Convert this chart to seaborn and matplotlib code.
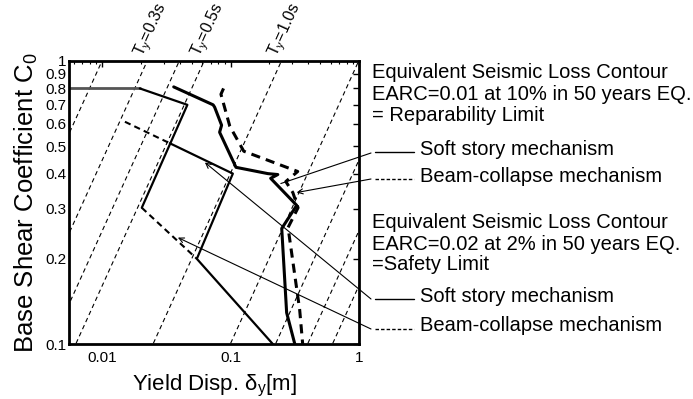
import numpy as np
import pandas as pd
import matplotlib
matplotlib.use("Agg")
import matplotlib.pyplot as plt
import seaborn as sns
from matplotlib.lines import Line2D
from matplotlib.ticker import FixedLocator, FixedFormatter, NullFormatter

sns.set_theme(style="white")
plt.rcParams['font.family'] = ['Liberation Sans', 'DejaVu Sans']
plt.rcParams['mathtext.fontset'] = 'custom'
plt.rcParams['mathtext.rm'] = 'Liberation Sans'
plt.rcParams['mathtext.it'] = 'Liberation Sans:italic'
plt.rcParams['mathtext.default'] = 'regular'

# ---------------- data ----------------
period_lines = [0.2, 0.3, 0.4, 0.5, 1.0, 2.0, 3.0, 4.0, 5.0]
period_labels = [0.3, 0.5, 1.0]

# Reparability limit (EARC=0.01)
rep_soft_disp = [0.036, 0.073, 0.075, 0.085, 0.082, 0.110, 0.195, 0.233, 0.205, 0.327, 0.250, 0.273, 0.316]
rep_soft_c    = [0.81, 0.70, 0.687, 0.593, 0.56, 0.421, 0.400, 0.397, 0.385, 0.309, 0.256, 0.129, 0.100]
rep_beam_disp = [0.088, 0.084, 0.0985, 0.1265, 0.333, 0.269, 0.305, 0.335, 0.280, 0.345, 0.364]
rep_beam_c    = [0.80, 0.763, 0.588, 0.480, 0.407, 0.375, 0.343, 0.303, 0.258, 0.132, 0.100]

# Safety limit (EARC=0.02)
safe_soft_a_disp = [0.0055, 0.0196, 0.046, 0.0203]
safe_soft_a_c    = [0.80, 0.80, 0.70, 0.303]
safe_soft_b_disp = [0.0336, 0.104, 0.0545, 0.213]
safe_soft_b_c    = [0.512, 0.40, 0.20, 0.10]
safe_beam_a_disp = [0.015, 0.0336]
safe_beam_a_c    = [0.61, 0.512]
safe_beam_b_disp = [0.0203, 0.0545]
safe_beam_b_c    = [0.303, 0.20]

y_ticks = [0.1, 0.2, 0.3, 0.4, 0.5, 0.6, 0.7, 0.8, 0.9, 1.0]
y_labels = ['0.1', '0.2', '0.3', '0.4', '0.5', '0.6', '0.7', '0.8', '0.9', '1']
x_ticks = [0.01, 0.1, 1.0]
x_labels = ['0.01', '0.1', '1']

# ---------------- figure ----------------
W, H = 693, 399
fig = plt.figure(figsize=(W / 100, H / 100), dpi=100)
fig.patch.set_facecolor('white')


def fp(x, y):
    return (x / W, 1 - y / H)


ax = fig.add_axes([69 / W, 1 - 344 / H, (359 - 69) / W, (344 - 61) / H])
ax.set_facecolor('white')
ax.set_xscale('log')
ax.set_yscale('log')

# constant-period lines
G = 9.81
rows = []
for T in period_lines:
    for c in (0.05, 2.0):
        rows.append({'T': T, 'disp': c * G * T ** 2 / (4 * np.pi ** 2), 'C': c})
df_T = pd.DataFrame(rows)
sns.lineplot(data=df_T, x='disp', y='C', units='T', estimator=None, sort=False,
             color='black', lw=0.8, linestyle=(0, (4, 3)), legend=False, ax=ax)


def draw(d, c, **kw):
    sns.lineplot(x=d, y=c, sort=False, estimator=None, legend=False, ax=ax, **kw)


draw(rep_soft_disp, rep_soft_c, color='black', lw=2.2, linestyle='-')
draw(rep_beam_disp, rep_beam_c, color='black', lw=2.2, linestyle=(0, (3, 2)))
draw(safe_soft_a_disp[:2], safe_soft_a_c[:2], color='#555555', lw=2.0, linestyle='-')
draw(safe_soft_a_disp[1:], safe_soft_a_c[1:], color='black', lw=1.6, linestyle='-')
draw(safe_soft_b_disp, safe_soft_b_c, color='black', lw=1.6, linestyle='-')
draw(safe_beam_a_disp, safe_beam_a_c, color='black', lw=1.5, linestyle=(0, (3, 2)))
draw(safe_beam_b_disp, safe_beam_b_c, color='black', lw=1.5, linestyle=(0, (3, 2)))

ax.set_xlim(0.0055, 1.0)
ax.set_ylim(0.1, 1.0)

ax.yaxis.set_major_locator(FixedLocator(y_ticks))
ax.yaxis.set_major_formatter(FixedFormatter(y_labels))
ax.yaxis.set_minor_locator(FixedLocator([]))
ax.xaxis.set_major_locator(FixedLocator(x_ticks))
ax.xaxis.set_major_formatter(FixedFormatter(x_labels))
minors = [m * 10.0 ** e for e in (-3, -2, -1) for m in range(2, 10)]
ax.xaxis.set_minor_locator(FixedLocator(minors))
ax.xaxis.set_minor_formatter(NullFormatter())

ax.tick_params(axis='both', which='major', direction='in', length=4, width=1.0,
               color='black', labelsize=11, labelcolor='black', top=True, right=True)
ax.tick_params(axis='x', which='minor', direction='in', length=2.5, width=0.8,
               color='black', top=True)
ax.tick_params(axis='y', which='major', pad=2)
ax.tick_params(axis='x', which='major', pad=5)
for s in ax.spines.values():
    s.set_visible(True)
    s.set_color('black')
    s.set_linewidth(2.0)
ax.grid(False)

ax.set_xlabel(r'Yield Disp. δ$_y$[m]', fontsize=16, color='black', labelpad=6)
ax.set_ylabel('Base Shear Coefficient C$_0$', fontsize=18.5, color='black', labelpad=4)

# period labels
for T in period_labels:
    d = G * T ** 2 / (4 * np.pi ** 2)
    ax.annotate(r'$T_y$=' + f'{T:.1f}s', xy=(d, 1.0), xytext=(1, 1),
                textcoords='offset points', rotation=65.5, rotation_mode='anchor',
                ha='left', va='bottom', fontsize=11.5, color='black',
                annotation_clip=False)

# right-side texts
tx = 372 / W
for txt, y in [('Equivalent Seismic Loss Contour', 72.5),
               ('EARC=0.01 at 10% in 50 years EQ.', 94.5),
               ('= Reparability Limit', 115.5),
               ('Equivalent Seismic Loss Contour', 222.5),
               ('EARC=0.02 at 2% in 50 years EQ.', 244.5),
               ('=Safety Limit', 265)]:
    fig.text(tx, 1 - y / H, txt, fontsize=14.5, ha='left', va='center', color='black')

for txt, y, ls in [('Soft story mechanism', 149.5, '-'),
                   ('Beam-collapse mechanism', 176, (0, (2.5, 1.5))),
                   ('Soft story mechanism', 296, '-'),
                   ('Beam-collapse mechanism', 325.5, (0, (2.5, 1.5)))]:
    fig.text(420 / W, 1 - y / H, txt, fontsize=14.5, ha='left', va='center', color='black')
    x0, y0 = fp(375, y + 3)
    x1, y1 = fp(414, y + 3)
    fig.add_artist(Line2D([x0, x1], [y0, y1], color='black', lw=1.0, linestyle=ls))

# leader lines
leaders = [((0.246, 0.369), (371, 153), '-'),
           ((0.327, 0.343), (371, 179), '->'),
           ((0.063, 0.438), (371, 299), '->'),
           ((0.0388, 0.2377), (371, 329), '->')]
for xy, txy, style in leaders:
    ax.annotate('', xy=xy, xycoords='data', xytext=fp(*txy), textcoords='figure fraction',
                arrowprops=dict(arrowstyle=style, lw=0.8, color='black',
                                shrinkA=0, shrinkB=0, mutation_scale=9),
                annotation_clip=False)

fig.savefig('out.png', dpi=100, facecolor='white')
